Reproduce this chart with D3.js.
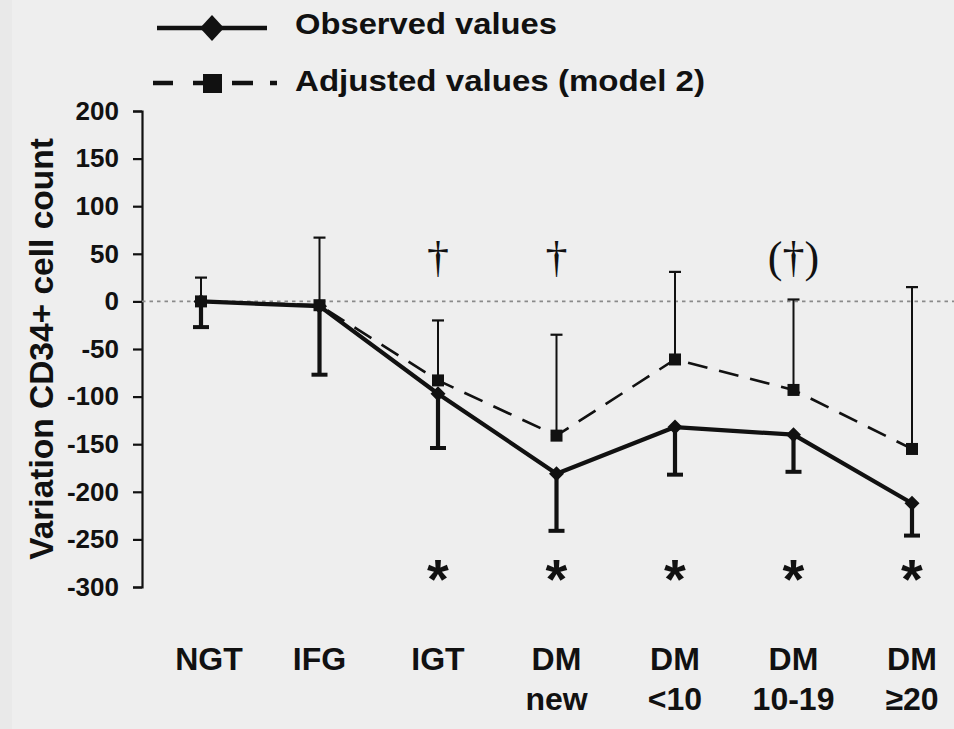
<!DOCTYPE html>
<html>
<head>
<meta charset="utf-8">
<script src="https://cdn.jsdelivr.net/npm/d3@7"></script>
<style>
html,body{margin:0;padding:0;background:#eeeeee;}
svg{display:block;}
</style>
</head>
<body>
<svg id="chart" width="954" height="729"></svg>
<script>
// ---- data ----
const categories = ["NGT","IFG","IGT","DM|new","DM|<10","DM|10-19","DM|\u226520"];
const observed      = [0, -5, -97, -181, -132, -140, -212];
const observedLower = [-27, -77, -154, -241, -182, -179, -246];
const adjusted      = [0, -4, -83, -141, -61, -93, -155];
const adjustedUpper = [25, 67, -20, -35, 31, 2, 15];
const yTicks = [200,150,100,50,0,-50,-100,-150,-200,-250,-300];
const daggerMarks = ["", "", "\u2020", "\u2020", "", "(\u2020)", ""];
const starMarks   = ["", "", "*", "*", "*", "*", "*"];
const legendLabels = ["Observed values", "Adjusted values (model 2)"];
const yLabel = "Variation CD34+ cell count";

const svg = d3.select("#chart");
svg.append("rect").attr("width",954).attr("height",729).attr("fill","#eeeeee");
svg.append("rect").attr("x",0).attr("width",12).attr("height",729).attr("fill","#e9e9e9");

const x = d3.scalePoint().domain(categories).range([201, 912]);
const y = d3.scaleLinear().domain([-300, 200]).range([587, 111]);

// y axis
const yAxis = d3.axisLeft(y).tickValues(yTicks).tickSize(9).tickPadding(14)
  .tickFormat(d => String(d));
const gy = svg.append("g").attr("transform","translate(142,0)").call(yAxis);
gy.select(".domain").attr("stroke","#111").attr("stroke-width",2.2);
gy.selectAll(".tick line").attr("stroke","#111").attr("stroke-width",2.2);
gy.selectAll(".tick text").attr("fill","#111")
  .style("font-family","Liberation Sans, Arial, sans-serif")
  .style("font-size","26px").style("font-weight","bold");

// y label
svg.append("text")
  .attr("transform","translate(53,349) rotate(-90)")
  .attr("text-anchor","middle")
  .style("font-family","Liberation Sans, Arial, sans-serif")
  .style("font-size","33.5px").style("font-weight","bold").attr("fill","#111")
  .text(yLabel);

// zero reference line
svg.append("line")
  .attr("x1",142).attr("x2",954).attr("y1",y(0)).attr("y2",y(0))
  .attr("stroke","#8a8a8a").attr("stroke-width",1.6).attr("stroke-dasharray","3.5,4");

// x labels
categories.forEach((c) => {
  const parts = c.split("|");
  const t = svg.append("text")
    .attr("text-anchor","middle")
    .style("font-family","Liberation Sans, Arial, sans-serif")
    .style("font-size","32px").style("font-weight","bold").attr("fill","#111");
  parts.forEach((p,j) => {
    t.append("tspan").attr("x", x(c) + (j===0 && c==="NGT" ? 8 : 0)).attr("y", 670 + j*40).text(p);
  });
});

// error bars: adjusted (thin, upward)
categories.forEach((c,i) => {
  const cx = x(c);
  svg.append("line").attr("x1",cx).attr("x2",cx)
    .attr("y1",y(adjusted[i])).attr("y2",y(adjustedUpper[i]))
    .attr("stroke","#111").attr("stroke-width",2);
  svg.append("line").attr("x1",cx-6).attr("x2",cx+6)
    .attr("y1",y(adjustedUpper[i])).attr("y2",y(adjustedUpper[i]))
    .attr("stroke","#111").attr("stroke-width",2.2);
});
// error bars: observed (thick, downward)
categories.forEach((c,i) => {
  const cx = x(c);
  svg.append("line").attr("x1",cx).attr("x2",cx)
    .attr("y1",y(observed[i])).attr("y2",y(observedLower[i]))
    .attr("stroke","#111").attr("stroke-width",4.2);
  svg.append("line").attr("x1",cx-8).attr("x2",cx+8)
    .attr("y1",y(observedLower[i])).attr("y2",y(observedLower[i]))
    .attr("stroke","#111").attr("stroke-width",4);
});

// lines
const lineGen = d3.line().x((d,i)=>x(categories[i])).y(d=>y(d));
svg.append("path").datum(adjusted).attr("d",lineGen)
  .attr("fill","none").attr("stroke","#111").attr("stroke-width",2.6)
  .attr("stroke-dasharray","20,12");
svg.append("path").datum(observed).attr("d",lineGen)
  .attr("fill","none").attr("stroke","#111").attr("stroke-width",4.2)
  .attr("stroke-linejoin","round");

// markers
const diamond = (cx,cy,hw,hh) => `M${cx},${cy-hh}L${cx+hw},${cy}L${cx},${cy+hh}L${cx-hw},${cy}Z`;
categories.forEach((c,i) => {
  const s = 12;
  svg.append("rect").attr("x",x(c)-s/2).attr("y",y(adjusted[i])-s/2)
    .attr("width",s).attr("height",s).attr("fill","#111");
});
categories.forEach((c,i) => {
  svg.append("path").attr("d",diamond(x(c),y(observed[i]),7.5,7.5)).attr("fill","#111");
});

// significance marks
categories.forEach((c,i) => {
  if (daggerMarks[i]) {
    svg.append("text").attr("x",x(c)).attr("y",272).attr("text-anchor","middle")
      .style("font-family","Liberation Serif, Times New Roman, serif")
      .style("font-size","44px").attr("fill","#111").text(daggerMarks[i]);
  }
  if (starMarks[i]) {
    svg.append("text").attr("x",x(c)).attr("y",598).attr("text-anchor","middle")
      .style("font-family","Liberation Sans, Arial, sans-serif")
      .style("font-size","56px").style("font-weight","bold").attr("fill","#111").text(starMarks[i]);
  }
});

// legend
const lg = svg.append("g");
lg.append("line").attr("x1",157).attr("x2",267).attr("y1",28).attr("y2",28)
  .attr("stroke","#111").attr("stroke-width",4.5);
lg.append("path").attr("d",diamond(212,28,12,13)).attr("fill","#111");
lg.append("line").attr("x1",153).attr("x2",278).attr("y1",83).attr("y2",83)
  .attr("stroke","#111").attr("stroke-width",4.5).attr("stroke-dasharray","20,20,20,19,21,17,7,200");
lg.append("rect").attr("x",203).attr("y",74).attr("width",19).attr("height",19).attr("fill","#111");
legendLabels.forEach((t,i) => {
  lg.append("text").attr("x",295).attr("y", i===0 ? 34 : 91)
    .style("font-family","Liberation Sans, Arial, sans-serif")
    .style("font-size","30px").style("font-weight","bold").attr("fill","#111")
    .attr("textLength", i===0 ? 262 : 410).attr("lengthAdjust","spacingAndGlyphs")
    .text(t);
});
</script>
</body>
</html>
